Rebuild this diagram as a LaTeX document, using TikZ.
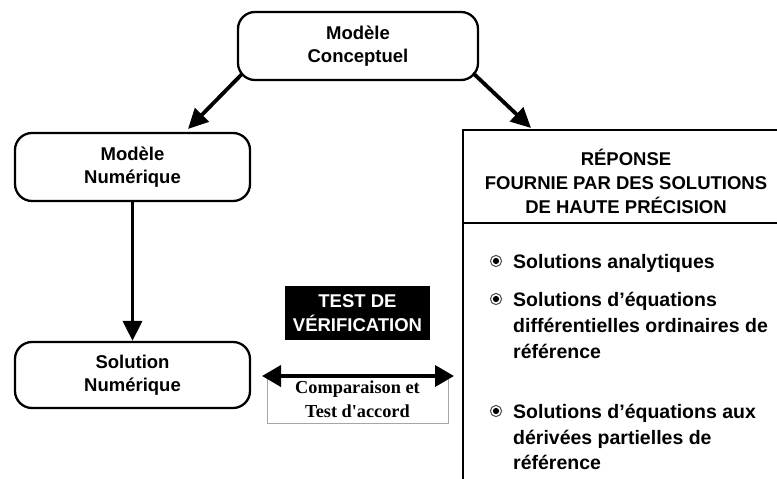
\documentclass[tikz,border=0pt]{standalone}
\usepackage{fontspec}
\setmainfont{Liberation Sans}
\newfontfamily\timesf{Liberation Serif}
\usetikzlibrary{arrows.meta}
\newcommand{\fisheyemark}{\tikz[baseline=-0.4ex]{\draw[line width=1pt, black!70] (0,0) circle (5.6pt); \fill (0,0) circle (3.1pt);}}
\begin{document}
\begin{tikzpicture}[x=1pt,y=-1pt,
  lbl/.style={font=\bfseries\fontsize{18.5}{23.5}\selectfont, align=center, inner sep=0pt},
  rbox/.style={draw, line width=2.3pt, rounded corners=17pt, lbl},
  arr/.style={line width=3.8pt, -{Triangle[length=20pt,width=19pt]}},
  darr/.style={line width=3.8pt, {Triangle[length=19pt,width=21pt]}-{Triangle[length=19pt,width=21pt]}},
  item/.style={font=\bfseries\fontsize{19.5}{26}\selectfont, anchor=base west, inner sep=0pt},
  frame/.style={line width=2.3pt}
]
\useasboundingbox (0,0) rectangle (777,479);

% rounded boxes
\node[rbox, minimum width=240pt, minimum height=68pt] (concept) at (358,46) {Modèle\\Conceptuel};
\node[rbox, minimum width=235pt, minimum height=68pt] (modnum) at (132.5,167) {Modèle\\Numérique};
\node[rbox, minimum width=235pt, minimum height=66pt] (solnum) at (132.5,375) {Solution\\Numérique};

% right frame (open to the right and bottom)
\coordinate (rtl) at (463,130);
\coordinate (rtr) at (780,130);
\coordinate (rbl) at (463,482);
\coordinate (rdl) at (463,223);
\coordinate (rdr) at (780,223);
\draw[frame] (rtr) -- (rtl) -- (rbl);
\draw[frame] (rdl) -- (rdr);

\node[lbl, font=\bfseries\fontsize{18.5}{24}\selectfont] (title) at (626,181) {RÉPONSE\\FOURNIE PAR DES SOLUTIONS\\DE HAUTE PRÉCISION};

% bullet items
\node[inner sep=0pt] (b1) at (496,261) {\fisheyemark};
\node[item] (t1) at (513,268) {Solutions analytiques};
\node[inner sep=0pt] (b2) at (496,299) {\fisheyemark};
\node[item] (t2a) at (513,306) {Solutions d’équations};
\node[item] (t2b) at (513,332) {différentielles ordinaires de};
\node[item] (t2c) at (513,358) {référence};
\node[inner sep=0pt] (b3) at (496,411) {\fisheyemark};
\node[item] (t3a) at (513,418) {Solutions d’équations aux};
\node[item] (t3b) at (513,444) {dérivées partielles de};
\node[item] (t3c) at (513,469) {référence};

% test box
\node[fill=black, text=white, lbl, minimum width=145pt, minimum height=54pt] (test) at (357.5,313) {TEST DE\\VÉRIFICATION};

% comparison box
\node[draw=black!35, line width=0.6pt, minimum width=181pt, minimum height=47pt, inner sep=0pt,
      font=\timesf\bfseries\fontsize{18.3}{24}\selectfont, align=center] (comp) at (357.5,399.5) {Comparaison et\\Test d'accord};

% arrows
\coordinate (a1s) at (242,74);
\coordinate (a1e) at (188,129);
\coordinate (a2s) at (473,73);
\coordinate (a2e) at (531,128);
\draw[arr] (a1s) -- (a1e);
\draw[arr] (a2s) -- (a2e);
\draw[arr] (modnum.south) -- (solnum.north);
\coordinate (dl) at (262,376);
\coordinate (dr) at (454,376);
\draw[darr] (dl) -- (dr);
\end{tikzpicture}
\end{document}
